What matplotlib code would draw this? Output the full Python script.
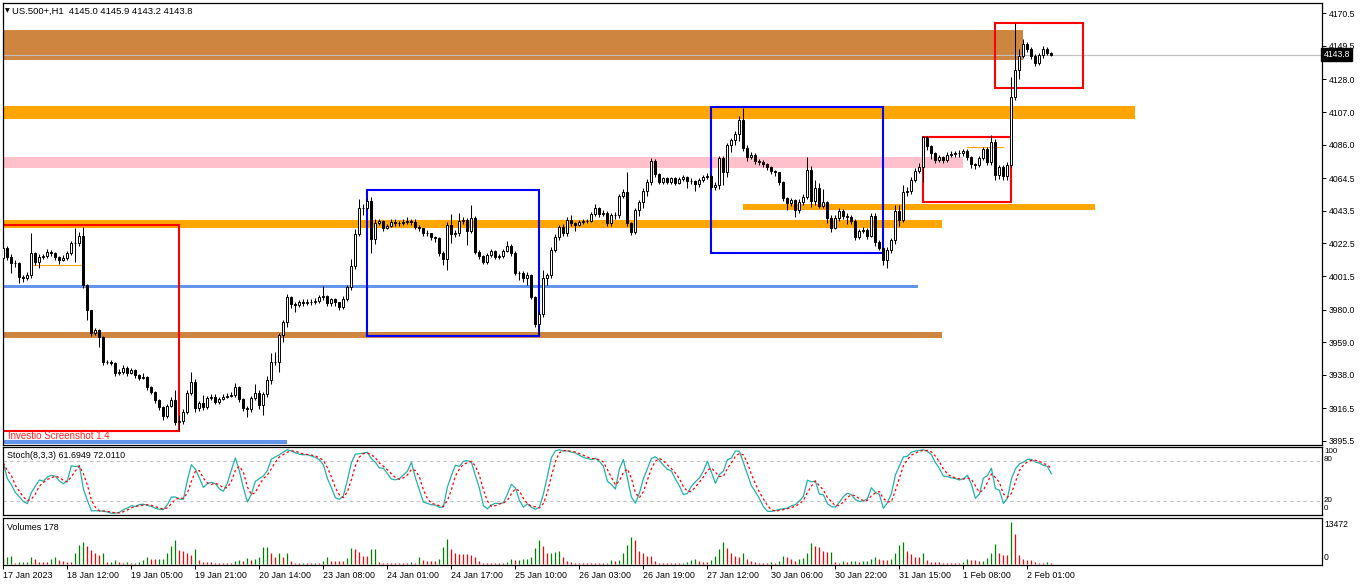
import matplotlib
matplotlib.use('Agg')
import matplotlib.pyplot as plt
import numpy as np
import pandas as pd
from matplotlib.patches import Rectangle
from matplotlib.transforms import blended_transform_factory

plt.rcParams['font.family'] = ['Liberation Sans', 'DejaVu Sans']

# ---- data (US.500+, H1) ----
first_open = 4013.0
closes = [
    4019.4, 4014.0, 4009.8, 4010.0, 4001.1, 4000.1, 4002.2, 4016.2, 4010.8, 4014.0,
    4014.3, 4017.2, 4016.2, 4014.0, 4011.9, 4013.0, 4016.2, 4022.6, 4022.8, 4027.3,
    3995.8, 3979.7, 3964.7, 3966.9, 3962.6, 3946.5, 3946.3, 3945.8, 3939.0, 3939.9,
    3942.2, 3939.4, 3941.1, 3937.9, 3936.2, 3936.6, 3930.4, 3927.2, 3921.9, 3917.5,
    3911.5, 3918.0, 3921.9, 3907.9, 3908.3, 3914.3, 3926.5, 3933.6, 3916.5, 3919.7,
    3917.5, 3923.0, 3924.0, 3920.8, 3922.3, 3924.0, 3924.4, 3925.3, 3930.0, 3922.3,
    3916.5, 3915.9, 3923.0, 3926.5, 3918.6, 3925.5, 3934.7, 3946.5, 3946.0, 3963.6,
    3972.2, 3987.9, 3983.4, 3983.0, 3984.7, 3984.4, 3985.1, 3984.7, 3985.7, 3987.9,
    3988.7, 3984.4, 3986.6, 3984.7, 3981.9, 3987.0, 3994.5, 4007.7, 4028.6, 4045.1,
    4045.0, 4050.0, 4025.2, 4035.9, 4036.8, 4032.3, 4033.7, 4036.5, 4035.9, 4035.5,
    4036.5, 4037.1, 4036.5, 4033.3, 4032.3, 4029.4, 4029.0, 4026.5, 4025.8, 4016.2,
    4012.5, 4034.4, 4028.6, 4029.0, 4036.9, 4037.6, 4030.7, 4038.7, 4017.2, 4014.4,
    4010.8, 4015.1, 4017.7, 4014.0, 4014.4, 4017.7, 4020.9, 4016.2, 4003.7, 4003.5,
    4000.1, 4002.2, 3988.3, 3970.7, 3977.2, 4000.1, 4002.2, 4018.3, 4026.5, 4032.9,
    4029.0, 4037.6, 4035.5, 4034.4, 4036.5, 4036.6, 4037.1, 4041.5, 4045.1, 4041.5,
    4042.3, 4035.5, 4040.8, 4040.9, 4053.0, 4055.8, 4035.5, 4030.1, 4044.0, 4049.4,
    4056.4, 4062.2, 4075.5, 4067.2, 4062.2, 4064.4, 4062.2, 4064.4, 4061.6, 4063.8,
    4065.1, 4062.9, 4062.7, 4060.7, 4063.3, 4065.1, 4065.9, 4059.0, 4060.1, 4077.3,
    4068.7, 4085.8, 4089.0, 4092.7, 4101.9, 4084.1, 4078.1, 4079.4, 4075.5, 4075.1,
    4073.4, 4071.9, 4069.1, 4068.3, 4062.2, 4051.9, 4048.3, 4050.5, 4044.0, 4049.4,
    4052.6, 4069.7, 4049.8, 4058.0, 4046.8, 4049.0, 4039.1, 4032.6, 4039.1, 4043.4,
    4040.4, 4039.7, 4036.9, 4026.8, 4030.5, 4031.2, 4027.5, 4040.4, 4023.3, 4019.8,
    4011.9, 4018.3, 4024.7, 4043.4, 4037.6, 4055.8, 4056.2, 4063.3, 4069.1, 4071.9,
    4091.2, 4085.4, 4080.5, 4076.2, 4078.3, 4076.2, 4079.4, 4080.0, 4080.5, 4080.4,
    4082.2, 4077.9, 4073.6, 4073.0, 4077.3, 4083.1, 4075.1, 4087.9, 4066.5, 4071.9,
    4065.9, 4073.0, 4116.9, 4134.0, 4143.0, 4150.8, 4147.4, 4143.0, 4138.7, 4143.7,
    4147.4, 4145.0, 4143.8,
]
highs = [
    4022.0, 4021.0, 4015.5, 4012.0, 4010.5, 4002.5, 4004.0, 4029.0, 4016.8, 4015.5,
    4016.0, 4019.0, 4018.5, 4017.0, 4014.5, 4015.0, 4017.5, 4024.0, 4032.4, 4030.0,
    4033.3, 3996.5, 3980.0, 3968.0, 3967.5, 3963.0, 3947.5, 3947.5, 3946.5, 3941.5,
    3944.0, 3943.5, 3942.5, 3941.5, 3938.5, 3939.0, 3937.0, 3931.0, 3927.5, 3922.5,
    3918.0, 3919.5, 3923.5, 3928.3, 3912.0, 3916.0, 3928.0, 3940.1, 3935.0, 3921.0,
    3925.0, 3924.5, 3925.5, 3925.5, 3923.5, 3925.5, 3926.0, 3927.0, 3932.5, 3931.0,
    3923.0, 3918.0, 3924.5, 3932.0, 3928.5, 3927.0, 3937.0, 3952.0, 3952.9, 3965.0,
    3973.5, 3990.0, 3988.5, 3985.0, 3986.0, 3986.5, 3986.5, 3986.5, 3987.5, 3989.5,
    3995.2, 3989.5, 3987.5, 3987.5, 3985.0, 3988.5, 3996.0, 4012.5, 4031.5, 4051.1,
    4048.0, 4051.5, 4052.5, 4038.5, 4038.0, 4037.5, 4035.0, 4038.0, 4038.5, 4037.0,
    4038.5, 4039.5, 4038.0, 4038.0, 4034.5, 4032.5, 4031.0, 4029.5, 4027.5, 4026.5,
    4017.5, 4036.0, 4041.2, 4031.0, 4042.0, 4039.5, 4039.0, 4047.2, 4040.0, 4018.0,
    4015.0, 4016.5, 4019.0, 4018.5, 4016.0, 4019.0, 4024.0, 4022.0, 4017.5, 4005.0,
    4005.0, 4004.0, 4003.0, 3989.0, 3979.0, 4005.4, 4003.5, 4020.0, 4028.5, 4034.5,
    4035.0, 4039.5, 4041.0, 4036.5, 4037.5, 4038.0, 4038.5, 4043.0, 4048.0, 4046.0,
    4044.0, 4043.5, 4042.0, 4042.5, 4054.5, 4057.5, 4068.6, 4036.5, 4045.5, 4050.5,
    4058.0, 4064.0, 4077.3, 4076.5, 4067.5, 4065.5, 4065.5, 4065.5, 4065.0, 4065.0,
    4066.5, 4066.0, 4064.5, 4063.5, 4064.5, 4066.5, 4067.5, 4067.0, 4062.0, 4079.0,
    4079.0, 4087.0, 4090.5, 4094.5, 4104.5, 4109.8, 4085.5, 4081.0, 4080.5, 4077.0,
    4076.0, 4074.5, 4072.5, 4070.0, 4068.5, 4062.5, 4052.5, 4052.0, 4051.0, 4051.0,
    4054.5, 4078.3, 4072.0, 4063.0, 4061.2, 4057.5, 4050.0, 4040.5, 4040.5, 4045.0,
    4044.5, 4042.0, 4041.0, 4038.0, 4032.0, 4033.0, 4032.5, 4041.9, 4042.0, 4024.5,
    4020.5, 4020.0, 4026.0, 4047.0, 4047.5, 4060.1, 4058.5, 4065.5, 4071.0, 4074.5,
    4091.8, 4091.5, 4086.0, 4081.5, 4079.5, 4079.0, 4081.0, 4082.0, 4082.0, 4082.5,
    4083.5, 4083.5, 4078.5, 4074.5, 4078.5, 4084.5, 4084.5, 4092.2, 4089.5, 4073.0,
    4073.0, 4075.0, 4129.3, 4164.3, 4147.5, 4153.8, 4152.0, 4148.5, 4144.5, 4145.0,
    4149.5, 4148.5, 4145.9,
]
lows = [
    4010.5, 4012.0, 4003.7, 4007.5, 3997.0, 3997.5, 3999.0, 4000.0, 4008.5, 4007.0,
    4012.5, 4013.0, 4014.5, 4012.0, 4009.5, 4011.0, 4012.0, 4015.0, 4010.8, 4021.0,
    3994.0, 3973.3, 3963.0, 3963.5, 3956.0, 3944.5, 3945.0, 3944.0, 3937.0, 3938.0,
    3938.5, 3937.5, 3938.5, 3936.0, 3934.5, 3935.0, 3928.5, 3925.5, 3920.0, 3915.5,
    3909.0, 3910.0, 3917.0, 3905.5, 3902.6, 3906.5, 3913.0, 3925.0, 3914.0, 3915.0,
    3915.5, 3916.0, 3922.0, 3919.0, 3919.5, 3921.5, 3923.0, 3923.5, 3923.5, 3920.5,
    3914.5, 3911.1, 3914.0, 3922.0, 3916.0, 3912.3, 3923.5, 3932.0, 3944.5, 3940.1,
    3959.0, 3968.5, 3981.0, 3978.5, 3981.5, 3982.5, 3983.0, 3983.0, 3983.5, 3984.0,
    3986.0, 3982.0, 3982.0, 3982.0, 3979.5, 3980.5, 3985.5, 3992.5, 4006.0, 4027.5,
    4041.0, 4044.0, 4016.6, 4022.0, 4034.5, 4030.5, 4031.5, 4033.0, 4034.0, 4033.5,
    4034.5, 4035.0, 4034.5, 4031.5, 4030.5, 4027.5, 4027.0, 4024.5, 4023.5, 4014.5,
    4008.5, 4005.4, 4022.6, 4026.5, 4027.0, 4035.0, 4021.5, 4029.0, 4015.5, 4012.5,
    4009.0, 4009.5, 4013.5, 4012.5, 4012.5, 4013.0, 4017.0, 4014.5, 4002.0, 3999.0,
    3998.0, 3996.0, 3986.5, 3969.0, 3963.6, 3975.0, 3996.0, 4000.0, 4017.0, 4024.5,
    4027.0, 4027.5, 4034.0, 4030.5, 4033.5, 4035.0, 4035.5, 4036.0, 4040.0, 4039.5,
    4040.0, 4033.5, 4034.0, 4038.5, 4039.0, 4052.0, 4033.5, 4028.0, 4028.5, 4040.0,
    4045.0, 4053.0, 4060.0, 4065.5, 4060.5, 4061.0, 4060.5, 4061.0, 4060.0, 4060.5,
    4062.5, 4058.0, 4061.0, 4056.5, 4058.5, 4062.0, 4064.0, 4057.0, 4057.0, 4057.5,
    4060.0, 4065.0, 4081.0, 4086.0, 4088.5, 4082.0, 4075.5, 4076.5, 4073.5, 4073.0,
    4071.5, 4070.0, 4067.0, 4066.0, 4060.0, 4050.0, 4044.0, 4046.5, 4039.7, 4042.0,
    4047.5, 4051.0, 4046.0, 4047.5, 4045.0, 4045.5, 4035.5, 4029.7, 4031.5, 4037.0,
    4038.5, 4035.0, 4035.0, 4025.0, 4025.5, 4029.0, 4025.5, 4026.5, 4021.0, 4018.0,
    4008.5, 4007.0, 4016.5, 4022.0, 4033.9, 4036.5, 4053.0, 4054.5, 4062.0, 4067.5,
    4062.2, 4082.5, 4076.5, 4074.0, 4075.0, 4074.5, 4075.0, 4078.0, 4078.0, 4078.0,
    4079.0, 4076.0, 4071.0, 4070.5, 4071.5, 4076.0, 4073.0, 4073.0, 4063.3, 4064.0,
    4063.0, 4063.0, 4071.5, 4115.0, 4128.0, 4141.5, 4145.5, 4141.0, 4136.6, 4137.2,
    4142.0, 4143.5, 4143.2,
]
volumes = [
    2050, 2380, 2590, 430, 620, 680, 700, 2370, 1720, 680,
    650, 620, 1720, 2270, 1300, 1080, 650, 540, 3560, 6150,
    7230, 5830, 4540, 3450, 2920, 3450, 650, 760, 1300, 650,
    430, 650, 320, 430, 650, 1300, 2160, 1620, 1510, 1730,
    1750, 3450, 5830, 7780, 4540, 4320, 3450, 3000, 4750, 1300,
    650, 540, 530, 430, 420, 320, 310, 250, 970, 1300,
    1080, 1940, 1300, 1510, 2160, 5400, 5510, 3670, 2380, 3670,
    2380, 3670, 1080, 430, 320, 430, 320, 310, 430, 320,
    1080, 2380, 1080, 1070, 1060, 1050, 1840, 5290, 4970, 4000,
    2700, 2590, 4970, 4980, 540, 430, 220, 210, 200, 200,
    190, 180, 650, 430, 2160, 1300, 1080, 1070, 1060, 1730,
    5620, 8100, 4970, 3450, 3240, 3230, 3220, 2920, 2380, 1080,
    430, 320, 310, 300, 290, 280, 650, 1620, 1300, 1400,
    1510, 1620, 2380, 5290, 7780, 5830, 3670, 3700, 4000, 4320,
    2380, 970, 650, 430, 320, 310, 300, 290, 280, 270,
    260, 430, 1300, 1080, 1300, 3670, 6150, 8860, 7780, 4210,
    3670, 2590, 2580, 1080, 430, 320, 310, 300, 290, 280,
    430, 650, 1300, 1620, 1080, 650, 640, 1300, 2700, 4750,
    7240, 5080, 3460, 2590, 2380, 3460, 1510, 1080, 760, 430,
    420, 410, 650, 430, 1080, 2590, 2160, 1510, 1080, 1620,
    1840, 3460, 6700, 5830, 5400, 4320, 3890, 4000, 650, 320,
    970, 760, 970, 1080, 760, 860, 1080, 1510, 2380, 1620,
    1400, 1400, 1620, 3560, 6260, 7240, 4320, 3240, 2160, 2150,
    3670, 1300, 650, 640, 630, 430, 420, 410, 400, 390,
    650, 1730, 1300, 1290, 860, 1080, 1940, 3460, 6480, 3460,
    2920, 2810, 13472, 9720, 2920, 1620, 1300, 1290, 650, 430,
    420, 650, 178,
]
price_ticks = [4170.5, 4149.5, 4128.0, 4107.0, 4086.0, 4064.5, 4043.5,
               4022.5, 4001.5, 3980.0, 3959.0, 3938.0, 3916.5, 3895.5]
date_labels = ['17 Jan 2023', '18 Jan 12:00', '19 Jan 05:00', '19 Jan 21:00',
               '20 Jan 14:00', '23 Jan 08:00', '24 Jan 01:00', '24 Jan 17:00',
               '25 Jan 10:00', '26 Jan 03:00', '26 Jan 19:00', '27 Jan 12:00',
               '30 Jan 06:00', '30 Jan 22:00', '31 Jan 15:00', '1 Feb 08:00',
               '2 Feb 01:00']
last_price = 4143.8

# drawn objects: (first bar, last bar, price low, price high, colour)
zones = [
    (-1, 255, 4140.5, 4159.8, '#CD853F'),
    (-1, 283, 4102.7, 4110.9, '#FFA500'),
    (-1, 240, 4071.2, 4078.3, '#FFC0CB'),
    (185, 273, 4044.0, 4047.9, '#FFA500'),
    (-1, 234.7, 4032.6, 4037.6, '#FFA500'),
    (-1, 228.7, 3993.9, 3996.0, '#6495ED'),
    (-1, 234.7, 3961.9, 3965.5, '#CD853F'),
    (-1, 71, 3893.7, 3896.3, '#6495ED'),
]
boxes = [
    (-1, 44, 3901.6, 4034.5, '#FF0000'),
    (91, 134, 3963.2, 4056.9, '#0000FF'),
    (177, 220, 4016.5, 4110.2, '#0000FF'),
    (230, 252, 4049.4, 4091.2, '#FF0000'),
    (248, 270, 4122.3, 4164.5, '#FF0000'),
]
thin_lines = [(7.5, 19.7, 4008.4), (241, 250, 4084.5)]

# ---- figure in pixel layout ----
W, H = 1362, 585
fig = plt.figure(figsize=(W / 100, H / 100), dpi=100)


def px_axes(x0, y0, x1, y1):
    return fig.add_axes([x0 / W, 1 - y1 / H, (x1 - x0) / W, (y1 - y0) / H])


ax = px_axes(3, 3, 1321.5, 444.5)
ax_st = px_axes(3, 446.5, 1321.5, 515)
ax_v = px_axes(3, 517.5, 1321.5, 564.5)

xmin = -0.1
xmax = xmin + 1318.5 / 4
for a in (ax, ax_st, ax_v):
    a.set_xlim(xmin, xmax)
    for s in a.spines.values():
        s.set_linewidth(0.9)
        s.set_color('black')

c = np.array(closes)
hi = np.array(highs)
lo = np.array(lows)
o = np.array([first_open] + closes[:-1])
hi = np.maximum(hi, np.maximum(o, c))
lo = np.minimum(lo, np.minimum(o, c))
x = np.arange(len(c))

# zones and boxes
for x0, x1, p0, p1, col in zones:
    ax.add_patch(Rectangle((x0, p0), x1 - x0, p1 - p0, facecolor=col,
                           edgecolor='none', zorder=1))
for x0, x1, p in thin_lines:
    ax.plot([x0, x1], [p, p], color='#FFA500', lw=0.8, zorder=1.5)
ax.axhline(last_price, color='#C0C0C0', lw=0.8, zorder=1.6)
for x0, x1, p0, p1, col in boxes:
    ax.add_patch(Rectangle((x0, p0), x1 - x0, p1 - p0, facecolor='none',
                           edgecolor=col, lw=1.5, zorder=2))

# candles
up = c >= o
ax.vlines(x, lo, hi, color='black', lw=0.75, zorder=3)
body_low = np.minimum(o, c)
body_h = np.maximum(np.abs(c - o), 0.15)
ax.bar(x, body_h, 0.5, bottom=body_low, color=np.where(up, 'white', 'black'),
       edgecolor='black', linewidth=0.7, zorder=4)

ax.set_ylim(3893.2, 4177.1)
ax.set_xticks([])
ax.yaxis.tick_right()
ax.set_yticks(price_ticks)
ax.set_yticklabels(['%.1f' % p for p in price_ticks])
ax.tick_params(axis='y', direction='out', length=3, width=0.7, pad=2,
               labelsize=6.2, colors='black')

tr = blended_transform_factory(ax.transAxes, ax.transData)
ax.text(1.0 + 2 / 1318.5, last_price, '4143.8', transform=tr, color='white',
        fontsize=6.2, va='center', ha='left', zorder=10, clip_on=False,
        bbox=dict(boxstyle='square,pad=0.25', facecolor='black', edgecolor='black'))

fig.text(5 / W, 1 - 10.5 / H, '\u25bc', fontsize=4.5, va='center', ha='left',
         family='DejaVu Sans')
fig.text(12 / W, 1 - 11 / H, 'US.500+,H1  4145.0 4145.9 4143.2 4143.8',
         fontsize=6.8, va='center', ha='left')
fig.text(8 / W, 1 - 436 / H, 'Investio Screenshot 1.4', color='#FF2020',
         fontsize=7, va='center', ha='left', zorder=6)

# stochastic (8,3,3)
s_c = pd.Series(c)
hh = pd.Series(hi).rolling(8, min_periods=1).max()
ll = pd.Series(lo).rolling(8, min_periods=1).min()
k_line = 100 * (s_c - ll).rolling(3, min_periods=1).sum() / \
    (hh - ll).rolling(3, min_periods=1).sum()
d_line = k_line.rolling(3, min_periods=1).mean()

ax_st.set_ylim(-0.45, 102.2)
for lvl in (20, 80):
    ax_st.axhline(lvl, color='#C0C0C0', lw=0.8, ls=(0, (3, 3)))
ax_st.plot(x, k_line, color='#20B2AA', lw=0.9)
ax_st.plot(x, d_line, color='#FF0000', lw=0.9, ls=(0, (2, 2)))
ax_st.set_xticks([])
ax_st.set_yticks([])
fig.text(7 / W, 1 - 455.5 / H, 'Stoch(8,3,3) 61.6949 72.0110', fontsize=6.4,
         va='center', ha='left')
for lab, ypx in (('100', 451.8), ('80', 459.5), ('20', 500.5), ('0', 509.0)):
    fig.text(1324 / W, 1 - ypx / H, lab, fontsize=5.8, va='center', ha='left')

# volumes
v = np.array(volumes)
rising = np.concatenate([[False], v[1:] > v[:-1]])
ax_v.vlines(x, 0, v, colors=np.where(rising, '#008000', '#FF0000'), lw=0.9)
ax_v.set_ylim(-160, 15022)
ax_v.set_yticks([])
ax_v.set_xticks(np.arange(len(date_labels)) * 16)
ax_v.set_xticklabels(date_labels, ha='left')
ax_v.tick_params(axis='x', direction='out', length=3, width=0.7, pad=1.5,
                 labelsize=6.4)
fig.text(7 / W, 1 - 527 / H, 'Volumes 178', fontsize=6.4, va='center', ha='left')
fig.text(1324 / W, 1 - 524.3 / H, '13472', fontsize=6.2, va='center', ha='left')
fig.text(1324 / W, 1 - 557.7 / H, '0', fontsize=6.2, va='center', ha='left')

fig.savefig('out.png', dpi=100)
